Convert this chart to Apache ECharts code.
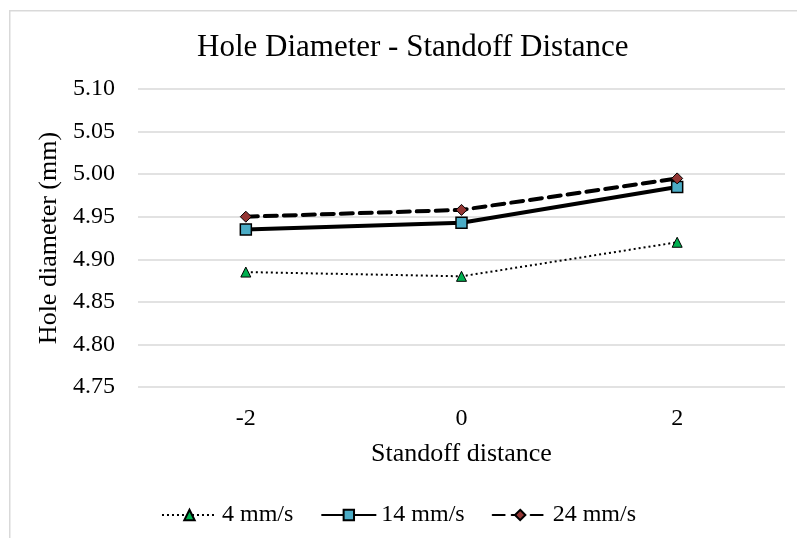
<!DOCTYPE html>
<html>
<head>
<meta charset="utf-8">
<script src="https://cdn.jsdelivr.net/npm/echarts@6/dist/echarts.min.js"></script>
<style>
html,body{margin:0;padding:0;background:#fff;}
#chart{width:797px;height:538px;}
</style>
</head>
<body>
<div id="chart"></div>
<script>
const categories = ['-2', '0', '2'];
const speed4 = [4.885, 4.880, 4.920];
const speed14 = [4.935, 4.943, 4.985];
const speed24 = [4.950, 4.958, 4.995];
const seriesNames = ['4 mm/s', '14 mm/s', '24 mm/s'];

const FONT = '"Liberation Serif", "Times New Roman", serif';
const chart = echarts.init(document.getElementById('chart'));
chart.setOption({
  animation: false,
  backgroundColor: '#fff',
  graphic: [{
    type: 'rect', left: 9, top: 10, z: -1,
    shape: {x: 0, y: 0, width: 800, height: 540},
    style: {fill: '#fff', stroke: '#d9d9d9', lineWidth: 1.5}
  }],
  title: {
    text: 'Hole Diameter - Standoff Distance',
    left: 192, top: 27,
    textStyle: {fontFamily: FONT, fontSize: 31, fontWeight: 'normal', color: '#000'}
  },
  grid: {left: 138, right: 12, top: 89, bottom: 151},
  legend: {
    bottom: 6, left: 'center',
    itemWidth: 55, itemHeight: 13, itemGap: 27,
    textStyle: {fontFamily: FONT, fontSize: 24, color: '#000'},
    data: seriesNames
  },
  xAxis: {
    type: 'category', data: categories,
    name: 'Standoff distance', nameLocation: 'middle', nameGap: 54,
    nameTextStyle: {fontFamily: FONT, fontSize: 26, color: '#000'},
    axisLine: {show: false}, axisTick: {show: false},
    axisLabel: {fontFamily: FONT, fontSize: 24, color: '#000', margin: 20}
  },
  yAxis: {
    type: 'value', min: 4.75, max: 5.10, interval: 0.05,
    name: 'Hole diameter (mm)', nameLocation: 'middle', nameGap: 67,
    nameTextStyle: {fontFamily: FONT, fontSize: 26, color: '#000'},
    axisLine: {show: false}, axisTick: {show: false},
    axisLabel: {fontFamily: FONT, fontSize: 24, color: '#000', margin: 23,
      formatter: v => v.toFixed(2)},
    splitLine: {lineStyle: {color: '#d9d9d9', width: 1.5}}
  },
  series: [
    {
      name: seriesNames[0], type: 'line', data: speed4,
      symbol: 'triangle', symbolSize: 10,
      lineStyle: {color: '#000', width: 2, type: [2, 3]},
      itemStyle: {color: '#00b050', borderColor: '#000', borderWidth: 1}
    },
    {
      name: seriesNames[1], type: 'line', data: speed14,
      symbol: 'rect', symbolSize: 11,
      lineStyle: {color: '#000', width: 4, type: 'solid'},
      itemStyle: {color: '#4bacc6', borderColor: '#000', borderWidth: 1.5}
    },
    {
      name: seriesNames[2], type: 'line', data: speed24,
      symbol: 'diamond', symbolSize: 11,
      lineStyle: {color: '#000', width: 4, type: [12, 7], cap: 'round'},
      itemStyle: {color: '#943634', borderColor: '#000', borderWidth: 1}
    }
  ]
});
</script>
</body>
</html>
